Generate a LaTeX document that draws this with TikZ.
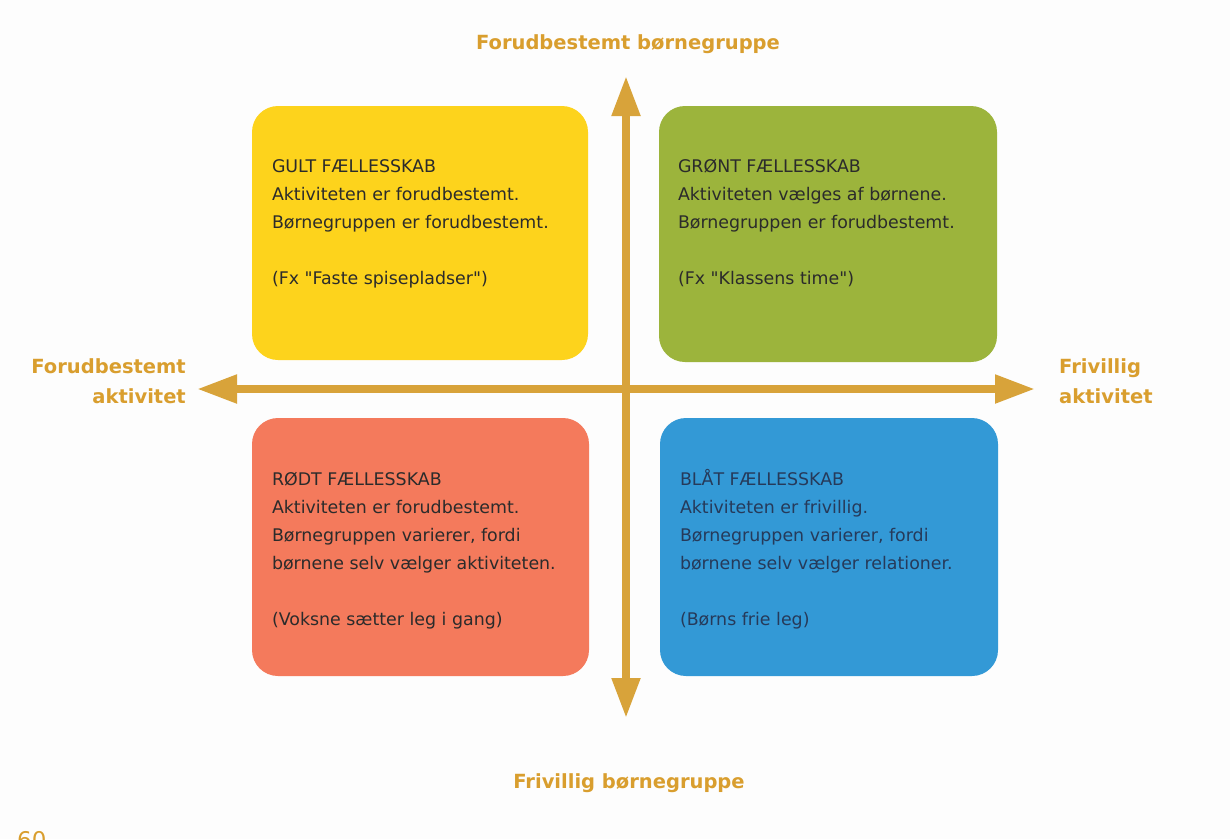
\documentclass[tikz,border=0pt]{standalone}
\usepackage{fontspec}
\setmainfont{DejaVu Sans}
\usetikzlibrary{arrows.meta,calc}
\definecolor{axisc}{HTML}{D8A33A}
\definecolor{labelc}{HTML}{D99E2E}
\definecolor{yelc}{HTML}{FDD31C}
\definecolor{grnc}{HTML}{9CB43C}
\definecolor{salc}{HTML}{F47A5C}
\definecolor{bluc}{HTML}{3399D6}
\definecolor{txtc}{HTML}{2B2B2B}
\definecolor{bluetxt}{HTML}{263A5A}
\definecolor{bgc}{HTML}{FDFDFD}
\newcommand{\dq}{\XeTeXglyph\the\XeTeXcharglyph"0022\relax}
\tikzset{
  quadbox/.style={rounded corners=26pt, inner sep=0pt, draw=none},
  boxtext/.style={anchor=north west, inner sep=0pt, align=left, text=txtc,
    font={\fontsize{17.4}{28}\selectfont}},
  axislabel/.style={inner sep=0pt, text=labelc,
    font={\fontsize{19.5}{30}\selectfont\bfseries}},
  axisline/.style={draw=axisc, line width=8pt,
    {Triangle[length=40pt,width=27pt]}-{Triangle[length=40pt,width=27pt]}}
}
\begin{document}
\begin{tikzpicture}[x=1pt,y=-1pt]
\useasboundingbox (0,0) rectangle (1230,839);
\clip (0,0) rectangle (1230,839);
\fill[bgc] (0,0) rectangle (1230,839);

% quadrant boxes
\node[quadbox, fill=yelc, minimum width=336pt, minimum height=254pt] (gult) at (420,233) {};
\node[quadbox, fill=grnc, minimum width=338pt, minimum height=256pt] (groent) at (828,234) {};
\node[quadbox, fill=salc, minimum width=337pt, minimum height=258pt] (roedt) at (420.5,547) {};
\node[quadbox, fill=bluc, minimum width=338pt, minimum height=258pt] (blaat) at (829,547) {};

% box texts
\node[boxtext] (gultT) at ($(gult.north west)+(20,46.4)$)
  {\strut GULT FÆLLESSKAB\\Aktiviteten er forudbestemt.\\Børnegruppen er forudbestemt.\\[28pt](Fx \dq Faste spisepladser\dq)};
\node[boxtext] (groentT) at ($(groent.north west)+(19,46.4)$)
  {\strut GRØNT FÆLLESSKAB\\Aktiviteten vælges af børnene.\\Børnegruppen er forudbestemt.\\[28pt](Fx \dq Klassens time\dq)};
\node[boxtext] (roedtT) at ($(roedt.north west)+(20,47.4)$)
  {\strut RØDT FÆLLESSKAB\\Aktiviteten er forudbestemt.\\Børnegruppen varierer, fordi\\børnene selv vælger aktiviteten.\\[28pt](Voksne sætter leg i gang)};
\node[boxtext, text=bluetxt] (blaatT) at ($(blaat.north west)+(20,47.4)$)
  {\strut BLÅT FÆLLESSKAB\\Aktiviteten er frivillig.\\Børnegruppen varierer, fordi\\børnene selv vælger relationer.\\[28pt](Børns frie leg)};

% axes
\coordinate (vtop) at (626,76);
\coordinate (vbot) at (626,718);
\coordinate (hleft) at (197,389);
\coordinate (hright) at (1035,389);
\draw[axisline] (vbot) -- (vtop);
\draw[axisline] (hleft) -- (hright);

% axis labels
\node[axislabel] (topL) at (628,44) {Forudbestemt børnegruppe};
\node[axislabel] (botL) at (629,783) {Frivillig børnegruppe};
\node[axislabel, align=right, anchor=east] (leftL) at (186,381) {Forudbestemt\\aktivitet};
\node[axislabel, align=left, anchor=west] (rightL) at (1059,381) {Frivillig\\aktivitet};

% cut-off page number
\node[anchor=base west, inner sep=0pt, text=labelc, font={\fontsize{23}{23}\selectfont}] (pageno) at (17,848) {60};
\end{tikzpicture}
\end{document}
